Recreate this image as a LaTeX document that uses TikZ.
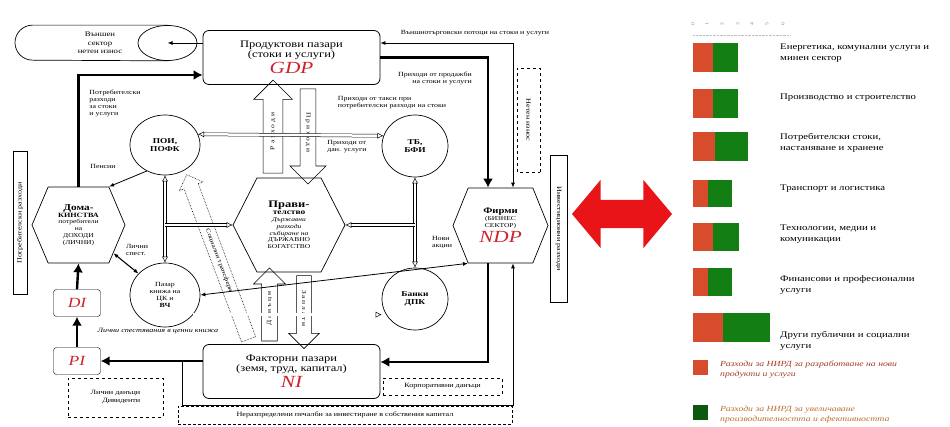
\documentclass[tikz,border=0pt]{standalone}
\usepackage{fontspec}
\setmainfont{Liberation Serif}[FakeStretch=1.25]
\usetikzlibrary{arrows.meta,shapes.geometric,shapes.symbols,shapes.arrows}

\definecolor{gdpred}{RGB}{205,35,45}
\definecolor{barred}{RGB}{214,76,44}
\definecolor{bargreen}{RGB}{18,126,20}
\definecolor{arrred}{RGB}{232,20,24}
\definecolor{notered}{RGB}{165,60,40}
\definecolor{notebrown}{RGB}{185,115,45}

\begin{document}
\begin{tikzpicture}[x=1pt,y=-1pt,
  >=Latex,
  every node/.style={font=\fontsize{6}{6.8}\selectfont,inner sep=0pt},
  market/.style={draw,rounded corners=6pt,minimum width=177pt,minimum height=54pt,align=center,line width=0.8pt},
  hexa/.style={draw,signal,signal to=east and west,align=center,line width=0.7pt},
  circ/.style={draw,ellipse,align=center,line width=0.7pt,font=\fontsize{7.5}{8.5}\selectfont\bfseries},
  incbox/.style={draw,rounded corners=3pt,minimum width=47pt,minimum height=27pt,font=\fontsize{14}{14}\selectfont\itshape,text=gdpred},
  fat/.style={->,line width=2.4pt,>={Latex[length=9pt,width=10pt]}},
  thin/.style={->,line width=0.8pt,>={Latex[length=5pt,width=4pt]}},
  dbl/.style={double,double distance=2.5pt,line width=0.5pt,>={Latex[open,length=6pt,width=6pt]}},
  hollow/.style={draw,single arrow,line width=0.6pt,align=center},
  sidebar/.style={draw,line width=0.7pt,font=\fontsize{6.5}{7}\selectfont},
  lbl/.style={font=\fontsize{6.3}{7}\selectfont,align=left},
  legtxt/.style={font=\fontsize{8.6}{10.5}\selectfont,align=left,anchor=west}
]
\useasboundingbox (0,0) rectangle (950,427);

% markets
\node[market] (gdp) at (291.5,57.5) {{\fontsize{10}{11.5}\selectfont Продуктови пазари}\\{\fontsize{10}{11.5}\selectfont (стоки и услуги)}\\[2pt]{\fontsize{17}{17}\selectfont\itshape\color{gdpred}GDP}};
\node[market] (ni) at (291.5,371.5) {{\fontsize{10}{11.5}\selectfont Факторни пазари}\\{\fontsize{10}{11.5}\selectfont (земя, труд, капитал)}\\[2pt]{\fontsize{17}{17}\selectfont\itshape\color{gdpred}NI}};

% external sector (lying drum)
\node[draw,ellipse,fill=white,minimum width=59pt,minimum height=35pt,line width=0.7pt] (extface) at (167.5,43) {};
\draw[line width=0.7pt] (extface.north) -- ([xshift=-135pt]extface.north)
  arc[start angle=90,end angle=270,radius=17.5pt] -- (extface.south);
\node[align=center,font=\fontsize{7}{8.5}\selectfont] (ext) at (100,43) {Външен\\сектор\\нетен износ};

% hexagons
\node[hexa,minimum width=93pt,minimum height=76pt,signal pointer angle=134] (hh) at (78.5,225)
  {{\fontsize{9}{10}\selectfont\bfseries Дома-}\\{\fontsize{6.5}{7.5}\selectfont\bfseries КИНСТВА}\\потребители\\на\\ДОХОДИ\\(ЛИЧНИ)};
\node[hexa,minimum width=112pt,minimum height=94pt,signal pointer angle=126] (gov) at (289,225)
  {{\fontsize{10}{11}\selectfont\bfseries Прави-}\\{\fontsize{7.5}{8.5}\selectfont\bfseries телство}\\\textit{Държавни}\\\textit{разходи}\\\textit{събиране на}\\ДЪРЖАВНО\\БОГАТСТВО};
\node[hexa,minimum width=95pt,minimum height=75pt,signal pointer angle=136] (firm) at (500.5,225.5)
  {{\fontsize{8.5}{9.5}\selectfont\bfseries Фирми}\\(БИЗНЕС\\СЕКТОР)\\[2pt]{\fontsize{17}{17}\selectfont\itshape\color{gdpred}NDP}};

% circles
\node[circ,minimum width=70pt,minimum height=60pt] (poi) at (165,145) {ПОИ,\\ПОФК};
\node[circ,minimum width=66pt,minimum height=62pt] (tb) at (415,146) {ТБ,\\БФИ};
\node[circ,minimum width=70pt,minimum height=64pt,font=\fontsize{6.3}{7.2}\selectfont] (vch) at (165,295) {Пазар\\книжа на\\ЦК и\\\bfseries ВЧ};
\node[circ,minimum width=66pt,minimum height=62pt] (bank) at (415,299) {Банки\\ДПК};

% personal and disposable income
\node[incbox] (di) at (77,303) {DI};
\node[incbox] (pi) at (77,361) {PI};

% side bars and notes
\node[sidebar,minimum width=143pt,minimum height=14pt,rotate=90] (cons) at (20,223) {Потребителски разходи};
\node[sidebar,minimum width=147pt,minimum height=17pt,rotate=-90] (inv) at (558.5,228.5) {Инвестиционни разходи};
\node[sidebar,dashed,minimum width=104pt,minimum height=23pt,rotate=-90] (netx) at (528.5,120) {Нетен износ};
\node[draw,dashed,minimum width=95pt,minimum height=39pt,align=right,font=\fontsize{6.5}{8}\selectfont] (div) at (115.5,397.5) {Лични данъци\\Дивиденти};
\node[draw,dashed,minimum width=119pt,minimum height=17pt,font=\fontsize{6.5}{7}\selectfont] (ctax) at (442.5,386.5) {Корпоративни данъци};
\node[draw,densely dashed,minimum width=334pt,minimum height=18pt,font=\fontsize{6.5}{7}\selectfont] (lret) at (345,415) {Неразпределени печалби за инвестиране в собствения капитал};

% red double arrow
\node[double arrow,fill=arrred,minimum height=100pt,double arrow head extend=20pt,inner ysep=14pt,inner xsep=0pt,double arrow tip angle=100] (swap) at (622,214) {};

% hollow arrows between markets and government
\node[hollow,rotate=90,minimum height=93pt,inner ysep=7pt,single arrow head extend=9.5pt] (spend) at (273,131.5) {Р а з х о д и};
\node[hollow,rotate=-90,minimum height=95pt,inner ysep=5pt,single arrow head extend=10pt] (rev) at (308,132.5) {П р и х о д и};
\node[hollow,rotate=90,minimum height=73pt,inner ysep=5pt,single arrow head extend=8pt] (tax) at (269.5,308.5) {Д а н ъ ц и};
\node[hollow,rotate=-90,minimum height=73pt,inner ysep=5pt,single arrow head extend=8pt] (wage) at (304,308.5) {З а п л а т и};
\node[hollow,densely dotted,rotate=110.6,minimum height=176pt,inner ysep=4.5pt,single arrow head extend=5pt] (trans) at (219,260.5) {\rotatebox{180}{Социални трансфери}};

% main flows
\draw[thin] (gdp.west |- extface.center) -- (extface.center);
\draw[fat] (hh.north) |- ([yshift=-17.5pt]gdp.west);
\draw[fat] (gdp.east) -| ([xshift=-12.5pt]firm.north);
\draw[thin,<->] ([yshift=14.5pt]gdp.east) -| ([xshift=12.5pt]firm.north);
\draw[fat] ([xshift=-12.5pt]firm.south) |- ([yshift=9.5pt]ni.east);
\draw[fat] (ni.west |- pi.east) -- (pi.east);
\coordinate (split) at (182,361);
\coordinate (retain) at (182,405);
\draw[thin] (split) -- (retain) -| ([xshift=12.5pt]firm.south);
\draw[fat] (pi.north) -- (di.south);
\draw[fat] (di.north) -- (hh.south);

% financial flows
\draw[thin] (poi.235) -- (hh.north east);
\draw[dbl,<->] (poi.18) -- (tb.162);
\draw[dbl,<->] (poi.south) -- (vch.north);
\draw[dbl,->] (poi.south |- gov.west) -- (gov.west);
\draw[dbl,<->] (tb.south) -- (bank.north);
\draw[dbl,->] (tb.south |- gov.east) -- (gov.east);
\draw[thin,<->,line width=1.1pt] (hh) -- (vch);
\draw[thin,<->] (vch.east) -- (firm.south west);
\draw[dbl,->] (vch.-35) -- (vch.-35 -| bank.west);

% labels
\node[lbl] (lcons) at (115,103) {Потребителски\\разходи\\за стоки\\и услуги};
\node[lbl,align=right] (lsales) at (435,78) {Приходи от продажби\\на стоки и услуги};
\node[lbl] (lfees) at (392,103) {Приходи от такси при\\потребителски разходи на стоки};
\node[lbl] (lsvc) at (347,147) {Приходи от\\дан. услуги};
\node[lbl] (lpens) at (103,166) {Пенсии};
\node[lbl] (lsav) at (137,250) {Лични\\спест.};
\node[lbl] (lshare) at (442,243) {Нови\\акции};
\node[lbl] (limp) at (475,33) {Външнотърговски потоци на стоки и услуги};
\node[lbl,font=\fontsize{6.5}{7}\selectfont\itshape] (lhs) at (158,331) {Лични спестявания в ценни книжа};

% right chart
\foreach \xx/\i in {693/0,707/1,722/2,738/3,752/4,767/5,783/6}
  \node[font=\fontsize{4.5}{4.5}\selectfont,text=gray,rotate=90] at (\xx,24) {\i};
\draw[gray!50,densely dotted] (693,35) -- (790,35);
\foreach \yt/\yb/\xr/\xg/\ly/\txt in {
  43/72/713/738/53/{Енергетика, комунални услуги и\\минен сектор},
  89/118/713/738/98/{Производство и строителство},
  132/161/715/748/143/{Потребителски стоки,\\настаняване и хранене},
  180/207/708/732/189/{Транспорт и логистика},
  223/251/713/739/234/{Технологии, медии и\\комуникации},
  268/296/708/732/285/{Финансови и професионални\\услуги},
  313/342/723/770/341/{Други публични и социални\\услуги}}{
  \fill[barred] (693,\yt) rectangle (\xr,\yb);
  \fill[bargreen] (\xr,\yt) rectangle (\xg,\yb);
  \node[legtxt] at (780,\ly) {\txt};
}
\fill[barred] (693,360) rectangle (708,375);
\node[legtxt,font=\fontsize{7.8}{10}\selectfont\itshape,text=notered] at (720,370) {Разходи за НИРД за разработване на нови\\продукти и услуги};
\fill[bargreen!70!black] (693,405) rectangle (708,420);
\node[legtxt,font=\fontsize{7.8}{10}\selectfont\itshape,text=notebrown] at (720,415) {Разходи за НИРД за увеличаване\\производителността и ефективността};
\end{tikzpicture}
\end{document}
